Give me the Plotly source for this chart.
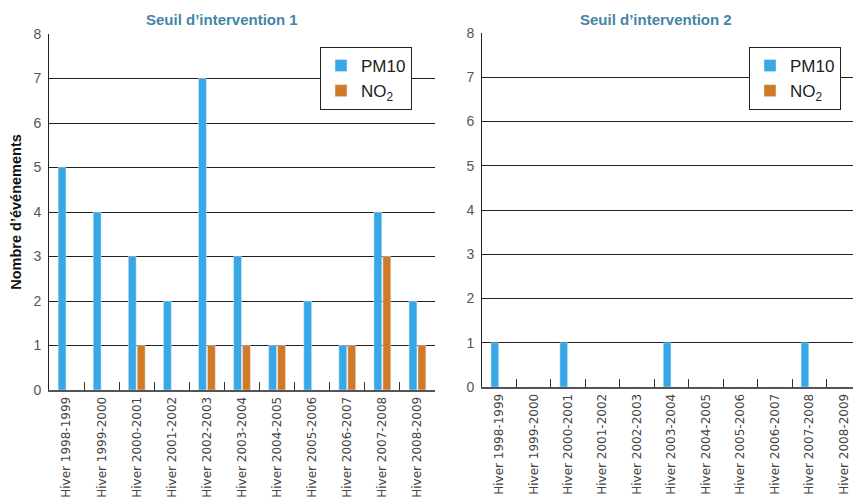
import plotly.graph_objects as go

categories = ["Hiver 1998-1999", "Hiver 1999-2000", "Hiver 2000-2001", "Hiver 2001-2002",
              "Hiver 2002-2003", "Hiver 2003-2004", "Hiver 2004-2005", "Hiver 2005-2006",
              "Hiver 2006-2007", "Hiver 2007-2008", "Hiver 2008-2009"]
pm10_seuil1 = [5, 4, 3, 2, 7, 3, 1, 2, 1, 4, 2]
no2_seuil1 = [0, 0, 1, 0, 1, 1, 1, 0, 1, 3, 1]
pm10_seuil2 = [1, 0, 1, 0, 0, 1, 0, 0, 0, 1, 0]
no2_seuil2 = [0, 0, 0, 0, 0, 0, 0, 0, 0, 0, 0]
titles = ["Seuil d\u2019intervention 1", "Seuil d\u2019intervention 2"]
y_title = "Nombre d\u2019\u00e9v\u00e9nements"

C_PM = "#37a7e6"
C_NO = "#d07a28"
OFF = 8  # page body margin
W, H = 861 - OFF, 502 - OFF


def px(x):
    return (x - OFF) / W


def py(y):
    return 1 - (y - OFF) / H


fig = go.Figure()
fig.add_trace(go.Bar(x=categories, y=pm10_seuil1, name="PM10", marker_color=C_PM,
                     xaxis="x", yaxis="y", legend="legend"))
fig.add_trace(go.Bar(x=categories, y=no2_seuil1, name="NO<sub>2</sub>", marker_color=C_NO,
                     xaxis="x", yaxis="y", legend="legend"))
fig.add_trace(go.Bar(x=categories, y=pm10_seuil2, name="PM10", marker_color=C_PM,
                     xaxis="x2", yaxis="y2", legend="legend2"))
fig.add_trace(go.Bar(x=categories, y=no2_seuil2, name="NO<sub>2</sub>", marker_color=C_NO,
                     xaxis="x2", yaxis="y2", legend="legend2"))

xcommon = dict(type="category", tickangle=-90, tickson="boundaries", ticks="inside",
               ticklen=8, tickcolor="#333", showline=True, linecolor="#555", linewidth=2,
               showgrid=False, tickfont=dict(family="DejaVu Sans", size=12, color="#444"),
               zeroline=False, automargin=False)
ycommon = dict(range=[0, 8], dtick=1, showgrid=True, gridcolor="#222", gridwidth=1,
               showline=True, linecolor="#222", linewidth=1, ticks="", zeroline=False,
               automargin=False, ticklabelstandoff=4,
               tickfont=dict(family="Liberation Sans", size=14, color="#555"))

legend_common = dict(xanchor="left", yanchor="top", bgcolor="white", bordercolor="#222",
                     borderwidth=1, font=dict(family="Liberation Sans", size=17, color="#222"),
                     itemwidth=30, tracegroupgap=0)

fig.update_layout(
    width=W, height=H, margin=dict(l=0, r=0, t=0, b=0, autoexpand=False),
    paper_bgcolor="white", plot_bgcolor="white",
    barmode="group", bargap=0.49, bargroupgap=0.12,
    xaxis=dict(domain=[px(49), px(435)], anchor="y", **xcommon),
    xaxis2=dict(domain=[px(482), 1.0], anchor="y2", **xcommon),
    yaxis=dict(domain=[py(390), py(34)], anchor="x",
               title=dict(text="<b>" + y_title + "</b>",
                          font=dict(family="Liberation Sans", size=14.5, color="#111"),
                          standoff=12),
               **ycommon),
    yaxis2=dict(domain=[py(387), py(33)], anchor="x2", **ycommon),
    legend=dict(x=px(320), y=py(47), **legend_common),
    legend2=dict(x=px(749), y=py(47), **legend_common),
    annotations=[
        dict(text="<b>" + titles[0] + "</b>", x=px(222), y=py(19), xref="paper", yref="paper",
             xanchor="center", yanchor="middle", showarrow=False,
             font=dict(family="Liberation Sans", size=15, color="#4585a8")),
        dict(text="<b>" + titles[1] + "</b>", x=px(656), y=py(19), xref="paper", yref="paper",
             xanchor="center", yanchor="middle", showarrow=False,
             font=dict(family="Liberation Sans", size=15, color="#4585a8")),
    ],
)

fig.write_html("out.html")
